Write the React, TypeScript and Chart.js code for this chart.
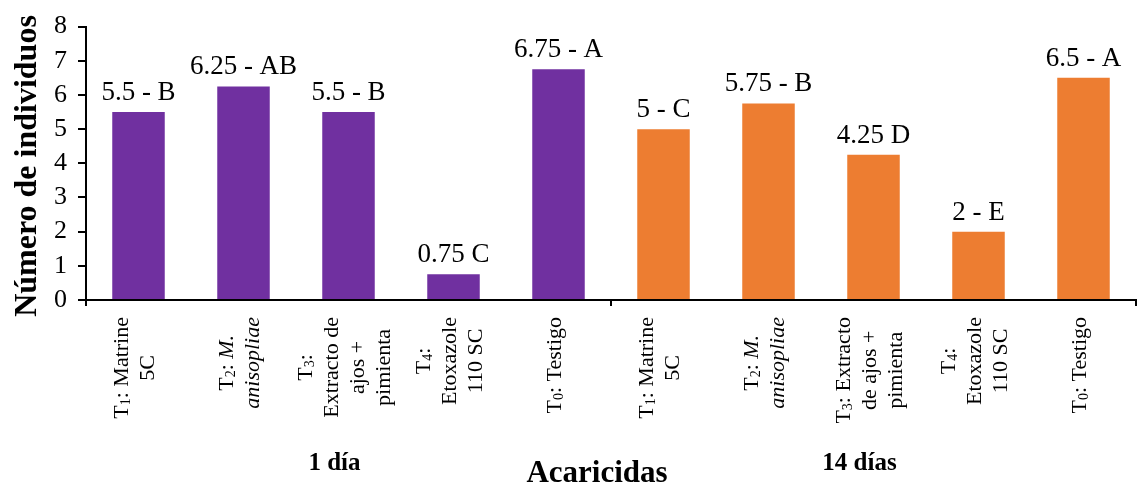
import { useEffect, useRef } from 'react';
import { Chart, registerables } from 'chart.js';

Chart.register(...registerables);

// Category labels (each entry = lines; text between _ _ is italic)
const categories: string[][] = [
  ['T₁: Matrine', '5C'],
  ['T₂: _M._', '_anisopliae_'],
  ['T₃:', 'Extracto de', 'ajos +', 'pimienta'],
  ['T₄:', 'Etoxazole', '110 SC'],
  ['T₀: Testigo'],
  ['T₁: Matrine', '5C'],
  ['T₂: _M._', '_anisopliae_'],
  ['T₃: Extracto', 'de ajos +', 'pimienta'],
  ['T₄:', 'Etoxazole', '110 SC'],
  ['T₀: Testigo'],
];
const values: number[] = [5.5, 6.25, 5.5, 0.75, 6.75, 5, 5.75, 4.25, 2, 6.5];
const valueLabels: string[] = [
  '5.5 - B', '6.25 - AB', '5.5 - B', '0.75 C', '6.75 - A',
  '5 - C', '5.75 - B', '4.25 D', '2 - E', '6.5 - A',
];
const groupNames: string[] = ['1 día', '14 días'];
const groupSizes: number[] = [5, 5];
const groupColors: string[] = ['#7030A0', '#ED7D31'];
const yMin = 0;
const yMax = 8;
const yStep = 1;
const yTitle = 'Número de individuos';
const xTitle = 'Acaricidas';

const SERIF = '"Liberation Serif", "Times New Roman", serif';
const SUBS = '₀₁₂₃₄₅₆₇₈₉';

type Seg = { text: string; italic: boolean; sub: boolean };

function parseSegments(line: string): Seg[] {
  const out: Seg[] = [];
  line.split('_').forEach((t, i) => {
    const italic = i % 2 === 1;
    let buf = '';
    for (const ch of t) {
      const k = SUBS.indexOf(ch);
      if (k >= 0) {
        if (buf) out.push({ text: buf, italic, sub: false });
        buf = '';
        out.push({ text: String(k), italic, sub: true });
      } else buf += ch;
    }
    if (buf) out.push({ text: buf, italic, sub: false });
  });
  return out;
}

const annotatePlugin = {
  id: 'annotate',
  afterDraw(chart: any) {
    const ctx: CanvasRenderingContext2D = chart.ctx;
    const area = chart.chartArea;
    const xs = chart.scales.x;
    const meta = chart.getDatasetMeta(0);
    ctx.save();
    ctx.fillStyle = '#000';

    // value labels
    ctx.font = `27px ${SERIF}`;
    ctx.textAlign = 'center';
    ctx.textBaseline = 'alphabetic';
    meta.data.forEach((bar: any, i: number) => {
      ctx.fillText(valueLabels[i], bar.x, bar.y - 12);
    });

    // rotated category labels
    const fs = 22;
    const lh = 26;
    const setFont = (s: Seg) => {
      ctx.font = `${s.italic ? 'italic ' : ''}${s.sub ? Math.round(fs * 0.65) : fs}px ${SERIF}`;
    };
    categories.forEach((lines, i) => {
      const cx = xs.getPixelForValue(i);
      const widths = lines.map((ln) =>
        parseSegments(ln).reduce((w, s) => {
          setFont(s);
          return w + ctx.measureText(s.text).width;
        }, 0)
      );
      const W = Math.max(...widths);
      const top = area.bottom + 17;
      ctx.save();
      ctx.translate(cx - 5, top + W / 2);
      ctx.rotate(-Math.PI / 2);
      ctx.textAlign = 'left';
      ctx.textBaseline = 'alphabetic';
      const n = lines.length;
      lines.forEach((ln, j) => {
        const ty = (j - (n - 1) / 2) * lh + fs * 0.33;
        let tx = -widths[j] / 2;
        parseSegments(ln).forEach((s) => {
          setFont(s);
          ctx.fillText(s.text, tx, ty + (s.sub ? fs * 0.12 : 0));
          tx += ctx.measureText(s.text).width;
        });
      });
      ctx.restore();
    });

    // group separator ticks + group labels
    ctx.strokeStyle = '#000';
    ctx.lineWidth = 2;
    let start = 0;
    const bounds: number[] = [area.left];
    groupSizes.forEach((sz) => {
      const end = start + sz;
      const bx =
        end >= values.length
          ? area.right
          : (xs.getPixelForValue(end - 1) + xs.getPixelForValue(end)) / 2;
      bounds.push(bx);
      start = end;
    });
    bounds.forEach((bx) => {
      ctx.beginPath();
      ctx.moveTo(Math.round(bx), area.bottom);
      ctx.lineTo(Math.round(bx), area.bottom + 6);
      ctx.stroke();
    });
    ctx.font = `bold 25px ${SERIF}`;
    ctx.textAlign = 'center';
    ctx.textBaseline = 'middle';
    groupNames.forEach((g, k) => {
      const gx = (bounds[k] + bounds[k + 1]) / 2 - 14;
      ctx.fillText(g, gx, 464);
    });

    // axis titles
    ctx.font = `bold 31px ${SERIF}`;
    ctx.fillText(xTitle, (area.left + area.right) / 2 - 14, 474);
    ctx.save();
    ctx.translate(28, 166);
    ctx.rotate(-Math.PI / 2);
    ctx.font = `bold 32px ${SERIF}`;
    ctx.fillText(yTitle, 0, 0);
    ctx.restore();

    ctx.restore();
  },
};

export default function App() {
  const ref = useRef<HTMLCanvasElement | null>(null);
  useEffect(() => {
    if (!ref.current) return;
    const chart = new Chart(ref.current, {
      type: 'bar',
      data: {
        labels: categories.map((c) => c.join(' ').replace(/_/g, '')),
        datasets: [
          {
            data: values,
            backgroundColor: values.map((_, i) => (i < groupSizes[0] ? groupColors[0] : groupColors[1])),
            barPercentage: 0.5,
            categoryPercentage: 1,
          },
        ],
      },
      options: {
        responsive: false,
        animation: false,
        layout: { padding: { top: 20, right: 3, left: 0, bottom: 0 } },
        plugins: { legend: { display: false }, tooltip: { enabled: false } },
        scales: {
          x: {
            grid: { display: false },
            border: { display: true, color: '#000', width: 2 },
            ticks: { display: false },
            afterFit: (s: any) => {
              s.height = 191;
            },
          },
          y: {
            min: yMin,
            max: yMax,
            ticks: {
              stepSize: yStep,
              autoSkip: false,
              color: '#000',
              padding: 11,
              font: { family: SERIF, size: 26 },
            },
            grid: { drawOnChartArea: false, drawTicks: true, tickLength: 8, color: '#000', lineWidth: 2 },
            border: { display: true, color: '#000', width: 2 },
            afterFit: (s: any) => {
              s.width = 86;
            },
          },
        },
      },
      plugins: [annotatePlugin],
    });
    return () => chart.destroy();
  }, []);
  return (
    <div style={{ position: 'absolute', left: 0, top: 0, width: 1139, height: 491, background: '#fff' }}>
      <canvas ref={ref} width={1139} height={491} />
    </div>
  );
}
